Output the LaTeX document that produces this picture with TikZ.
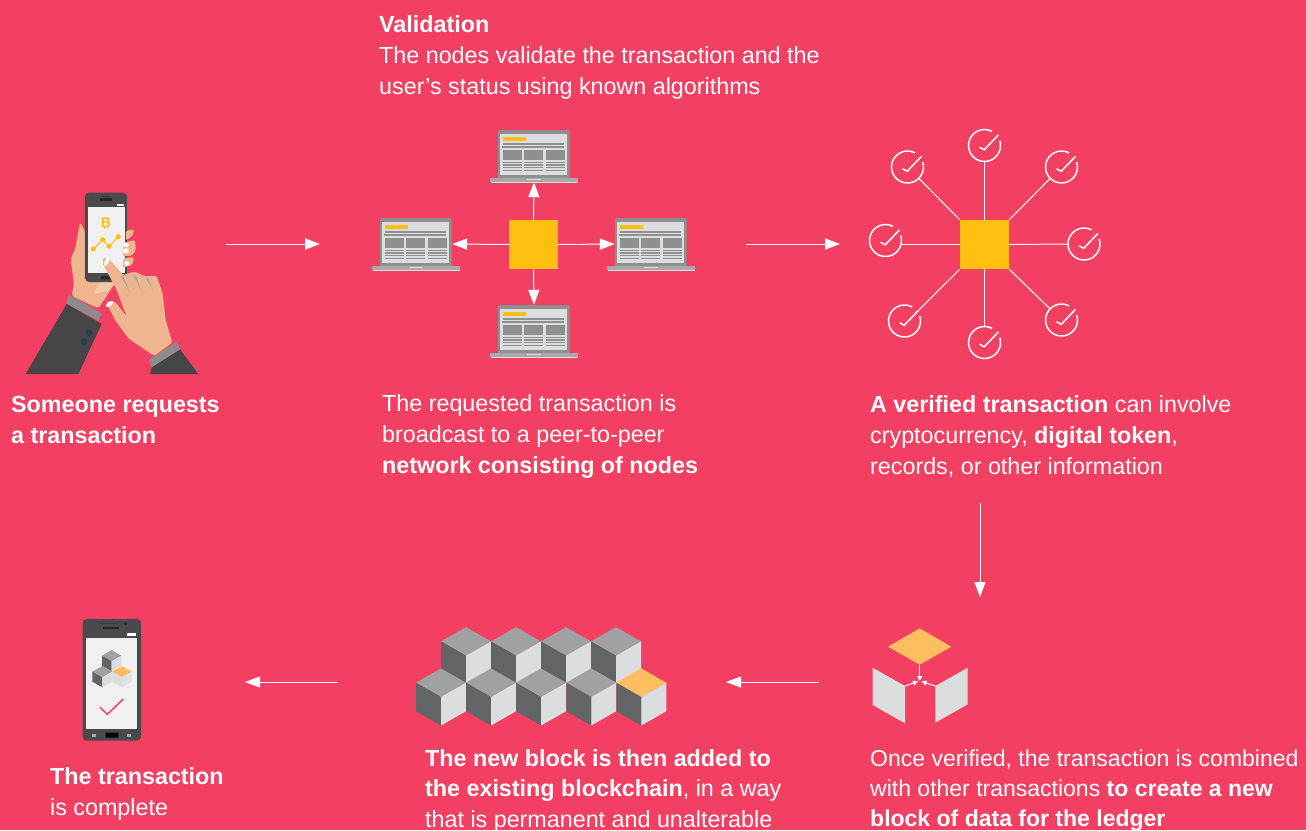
\documentclass[tikz,border=0pt]{standalone}
\usepackage{fontspec}
\setmainfont{Liberation Sans}
\usetikzlibrary{arrows.meta}
\definecolor{bgred}{HTML}{F34062}
\definecolor{hubyellow}{HTML}{FFBF10}
\definecolor{blockorange}{HTML}{FFBE5F}
\definecolor{lapgray}{HTML}{8E8F91}
\definecolor{lapbase}{HTML}{A7A9AB}
\definecolor{paneLight}{HTML}{DCDDDF}
\definecolor{cubeTop}{HTML}{A0A1A3}
\definecolor{cubeDark}{HTML}{636466}
\definecolor{skin}{HTML}{EFB58F}
\definecolor{skinlight}{HTML}{F5C8A8}
\definecolor{suit}{HTML}{464646}
\definecolor{cuffgray}{HTML}{8C8C8C}
\definecolor{btn}{HTML}{2B3E4C}
\definecolor{phoneBody}{HTML}{4A4A4C}
\definecolor{phoneScreen}{HTML}{F0F0F0}
\tikzset{
  x=1pt,y=-1pt,
  txt/.style={anchor=north west,inner sep=0pt,text=white,align=left,font=\fontsize{23.3}{31}\selectfont},
  flow/.style={draw=white,line width=1pt,-{Triangle[length=15pt,width=11pt]}},
  spoke/.style={draw=white,line width=1pt,-{Triangle[length=15pt,width=11pt]}},
  ray/.style={draw=white,line width=1pt},
  hubbox/.style={fill=hubyellow,minimum size=49pt,inner sep=0pt},
  lapbox/.style={minimum width=72pt,minimum height=52pt,inner sep=0pt},
  ckbox/.style={circle,minimum size=32pt,inner sep=0pt},
  ckline/.style={draw=white,line width=1.5pt},
  tiny/.style={draw=white,line width=1pt,-{Triangle[length=5pt,width=5pt]}},
}
\newcommand{\laptopicon}[3]{%
\begin{scope}[shift={(#2,#3)}]
  \fill[lapgray,rounded corners=1.5pt] (-36,0) rectangle (35.5,50);
  \fill[paneLight] (-34,4) rectangle (33,45);
  \fill[lapbase] (-44,48) rectangle (44,51.5);
  \fill[paneLight] (-43.5,51.5) rectangle (43.5,52.5);
  \fill[paneLight] (-7,48.5) rectangle (7,50.2);
  \fill[hubyellow] (-31,7) rectangle (-8,11);
  \fill[lapgray] (-31,13) rectangle (30,14.7);
  \fill[lapgray] (-32,16) rectangle (30,17.7);
  \foreach \xa/\xb in {-31/-12,-10/9,12/31}{
    \fill[lapgray] (\xa,20) rectangle (\xb,30);
    \foreach \yy in {32,34.4,37,39.8}{\fill[lapgray] (\xa,\yy) rectangle (\xb,\yy+1.3);}
  }
  \node[lapbox] (#1) at (0,26) {};
\end{scope}}
\newcommand{\checkicon}[3]{%
\node[ckbox] (#1) at (#2,#3) {};
\begin{scope}[shift={(#2,#3)}]
  \draw[ckline] (0,0) ++(62:16pt) arc[start angle=62,end angle=378,radius=16pt];
  \draw[ckline] (-5,1.7) -- (-0.3,4.3) -- (14,-10.7);
  \coordinate (#1tip) at (14,-10.7);
\end{scope}}
% \isocube{x}{y}{w}{h}{H}{top}{left}{right}: (x,y) is the front vertex
\newcommand{\isocube}[8]{%
  \fill[#6] (#1,#2) -- (#1-#3,#2-#4) -- (#1,#2-2*#4) -- (#1+#3,#2-#4) -- cycle;
  \fill[#7] (#1,#2) -- (#1-#3,#2-#4) -- (#1-#3,#2-#4+#5) -- (#1,#2+#5) -- cycle;
  \fill[#8] (#1,#2) -- (#1+#3,#2-#4) -- (#1+#3,#2-#4+#5) -- (#1,#2+#5) -- cycle;
}
\begin{document}
\begin{tikzpicture}
\useasboundingbox (0,0) rectangle (1306,830);
\fill[bgred] (0,0) rectangle (1306,830);

% --- requesting hands and phone (drawn in 3x crop coordinates)
\begin{scope}[shift={(0,170)},scale=1/3]
  \fill[skin,rounded corners=2pt] (240,158) -- (262,195) -- (300,300) -- (345,340) -- (295,415) -- (215,378) -- (222,340) -- (212,268) -- (226,235) -- cycle;
  \fill[skinlight,rounded corners=1pt] (280,372) -- (300,335) -- (345,335) -- (325,362) -- cycle;
  \fill[suit] (200,402) -- (305,462) -- (235,612) -- (77,612) -- cycle;
  \fill[cuffgray] (207,375) -- (305,430) -- (295,452) -- (199,400) -- cycle;
  \fill[btn] (267,488) circle[radius=10pt];
  \fill[btn] (252,515) circle[radius=10pt];
  \fill[phoneBody,rounded corners=4pt] (255,68) rectangle (381,336);
  \fill[phoneScreen] (263,110) rectangle (375,309);
  \fill[black!85] (300,85) rectangle (335,92);
  \fill[btn] (305,77) rectangle (332,81);
  \fill[black!85,rounded corners=0.5pt] (303,318) rectangle (335,328);
  \fill[white] (352,102) rectangle (372,107);
  \foreach \tx in {313,320}{
    \fill[hubyellow] (\tx,140) rectangle (\tx+3,147);
    \fill[hubyellow] (\tx,171) rectangle (\tx+3,178);}
  \node[text=hubyellow,inner sep=0pt,font=\bfseries\fontsize{13.5}{13.5}\selectfont] (coin) at (318,159) {B};
  \draw[hubyellow,line width=1pt] (280,237) -- (308,209) -- (327,229) -- (355,200);
  \foreach \px/\py in {280/237,308/209,327/229,355/200}{\fill[hubyellow] (\px,\py) circle[radius=7.5pt];}
  % fingers behind the touching hand
  \fill[skin,rounded corners=1.5pt] (378,182) -- (403,178) -- (398,196) -- (378,212) -- cycle;
  \fill[skin,rounded corners=2pt] (370,218) -- (405,210) -- (408,240) -- (395,258) -- (368,258) -- cycle;
  \fill[skin,rounded corners=2pt] (370,264) -- (402,262) -- (398,285) -- (368,293) -- cycle;
  \fill[white] (378,225) ellipse[x radius=9pt,y radius=6.5pt];
  \fill[white] (378,243) ellipse[x radius=9pt,y radius=8pt];
  \fill[white] (380,280) ellipse[x radius=8pt,y radius=7pt];
  % touching hand
  \fill[skin,rounded corners=1.5pt] (310,262) -- (330,270) -- (370,315) -- (405,305) -- (432,318) -- (470,318) -- (488,370) -- (497,450) -- (517,518) -- (462,558) -- (385,505) -- (345,450) -- (318,395) -- (345,395) -- (380,440) -- (350,360) -- (308,280) -- cycle;
  \fill[white,rotate around={65:(320,275)}] (320,275) ellipse[x radius=14pt,y radius=6pt];
  \fill[white,rotate around={35:(329,402)}] (329,402) ellipse[x radius=13pt,y radius=6pt];
  \foreach \xa/\ya/\xb/\yb in {362/318/392/372,400/318/426/366,437/325/459/362}{
    \fill[lapbase] (\xa,\ya) -- (\xa+8,\ya-1) -- (\xb,\yb) -- cycle;}
  \fill[suit] (540,538) -- (595,612) -- (450,612) -- (455,592) -- cycle;
  \fill[cuffgray] (447,570) -- (530,515) -- (540,538) -- (455,592) -- cycle;
\end{scope}

% --- broadcast hub and laptops
\node[hubbox] (hubA) at (533.5,244.5) {};
\laptopicon{lapT}{534}{130}
\laptopicon{lapL}{416}{218}
\laptopicon{lapR}{651}{218}
\laptopicon{lapB}{534}{305}
\draw[spoke] (hubA.north) -- (lapT.south);
\draw[spoke] (hubA.south) -- (lapB.north);
\draw[spoke] (hubA.west) -- (lapL.east);
\draw[spoke] (hubA.east) -- (lapR.west);

% --- verified hub
\node[hubbox] (hubB) at (984.5,244.5) {};
\checkicon{ckT}{984.5}{145.5}
\checkicon{ckUL}{907.5}{167}
\checkicon{ckUR}{1061.5}{167}
\checkicon{ckL}{885.5}{240.5}
\checkicon{ckR}{1084}{244}
\checkicon{ckLL}{904.5}{321}
\checkicon{ckLR}{1061.5}{320}
\checkicon{ckB}{984.5}{342.5}
\draw[ray] (hubB.north) -- (ckT.south);
\draw[ray] (hubB.south) -- (ckB.north);
\draw[ray] (hubB.west) -- (hubB.west -| ckL.east);
\draw[ray] (hubB.east) -- (ckR.west);
\draw[ray] (hubB.north west) -- (ckUL);
\draw[ray] (hubB.north east) -- (ckUR);
\draw[ray] (hubB.south east) -- (ckLR);
\draw[ray] (hubB.south west) -- (ckLLtip);

% --- new block icon
\fill[blockorange] (888,646.7) -- (919.7,628.3) -- (951.3,646.7) -- (919.7,664.7) -- cycle;
\fill[paneLight] (872.7,667.7) -- (905,686) -- (905,723.3) -- (872.7,705) -- cycle;
\fill[paneLight] (967.7,667.7) -- (935.3,686) -- (935.3,722.7) -- (967.7,704.3) -- cycle;
\coordinate (blkA) at (919.7,664.7);
\coordinate (blkB) at (905,686);
\coordinate (blkC) at (935.3,686);
\coordinate (blkOa) at (919.7,681);
\coordinate (blkOb) at (918,681.5);
\coordinate (blkOc) at (921.5,681.5);
\draw[tiny] (blkA) -- (blkOa);
\draw[tiny] (blkB) -- (blkOb);
\draw[tiny] (blkC) -- (blkOc);

% --- blockchain
\foreach \cx in {466,516,566,616}{\isocube{\cx}{655.7}{25}{14.3}{28.5}{cubeTop}{cubeDark}{paneLight}}
\foreach \cx in {441,491,541,591.3}{\isocube{\cx}{697}{25}{14.3}{28.5}{cubeTop}{cubeDark}{paneLight}}
\isocube{641.3}{697}{25}{14.3}{28.5}{blockorange}{cubeDark}{paneLight}

% --- completed phone (3x crop coordinates)
\begin{scope}[shift={(60,610)},scale=1/3]
  \fill[phoneBody,rounded corners=4pt] (68,27) rectangle (243,392);
  \fill[phoneScreen] (78,84) rectangle (232,357);
  \fill[black!85] (130,50) rectangle (178,58);
  \fill[btn] (116,38) rectangle (170,43);
  \fill[black!85] (197,40) circle[radius=5pt];
  \fill[white] (200,70) rectangle (228,79);
  \fill[black,rounded corners=0.5pt] (137,368) rectangle (175,383);
  \fill[lapbase] (96,372) rectangle (108,380);
  \fill[lapbase] (200,372) rectangle (213,380);
  \isocube{155}{154}{29}{17}{30}{cubeTop}{cubeDark}{paneLight}
  \isocube{127}{202}{30}{17}{30}{cubeTop}{cubeDark}{paneLight}
  \isocube{186}{202}{29}{17}{30}{blockorange}{paneLight}{paneLight!85!white}
  \draw[bgred,line width=1.5pt] (120,292) -- (142,313) -- (190,267);
\end{scope}

% --- flow arrows
\coordinate (arA1) at (226,244); \coordinate (arA2) at (320,244);
\coordinate (arB1) at (746,244); \coordinate (arB2) at (840,244);
\coordinate (arC1) at (980,503); \coordinate (arC2) at (980,597);
\coordinate (arD1) at (819,682); \coordinate (arD2) at (726,682);
\coordinate (arE1) at (338,682); \coordinate (arE2) at (245,682);
\draw[flow] (arA1) -- (arA2);
\draw[flow] (arB1) -- (arB2);
\draw[flow] (arC1) -- (arC2);
\draw[flow] (arD1) -- (arD2);
\draw[flow] (arE1) -- (arE2);

% --- texts
\node[txt] (tVal) at (379,15) {\textbf{Validation}\\The nodes validate the transaction and the\\user’s status using known algorithms};
\node[txt] (tReq) at (11,396) {\textbf{Someone requests}\\\textbf{a transaction}};
\node[txt] (tBro) at (382,394) {The requested transaction is\\broadcast to a peer-to-peer\\\textbf{network consisting of nodes}};
\node[txt] (tVer) at (870,395) {\textbf{A verified transaction} can involve\\cryptocurrency, \textbf{digital token},\\records, or other information};
\node[txt] (tDone) at (50,767) {\textbf{The transaction}\\is complete};
\node[txt,font=\fontsize{23.3}{30.6}\selectfont] (tNew) at (425,749) {\textbf{The new block is then added to}\\\textbf{the existing blockchain}, in a way\\that is permanent and unalterable};
\node[txt,font=\fontsize{23}{30.2}\selectfont] (tOnce) at (870,749.5) {Once verified, the transaction is combined\\with other transactions \textbf{to create a new}\\\textbf{block of data for the ledger}};
\end{tikzpicture}
\end{document}
